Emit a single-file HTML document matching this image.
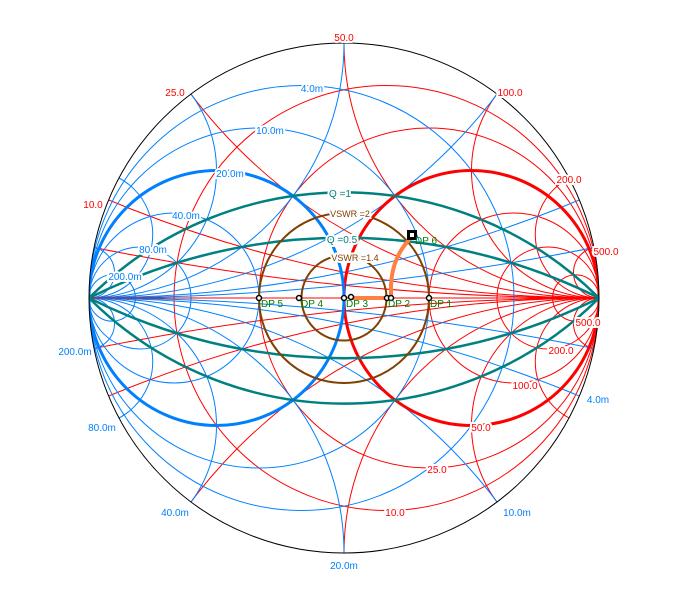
<!DOCTYPE html>
<html><head><meta charset="utf-8"><style>
html,body{margin:0;padding:0;background:#fff;overflow:hidden;width:687px;height:598px;}
svg{display:block;}
text{font-family:"Liberation Sans",sans-serif;font-size:10px;text-anchor:middle;paint-order:stroke;stroke:#fff;stroke-width:4px;stroke-linejoin:miter;}
.r{fill:#f00}.b{fill:#0080ff}
</style></head><body>
<svg width="687" height="598" viewBox="0 0 687 598" xmlns="http://www.w3.org/2000/svg">
<defs><clipPath id="uc"><circle cx="0" cy="0" r="1"/></clipPath></defs>
<g transform="translate(344,298) scale(255)">
<g clip-path="url(#uc)" fill="none">
 <g stroke="#f00" stroke-width="1">
  <circle cx="0.1667" cy="0" r="0.8333" vector-effect="non-scaling-stroke"/>
  <circle cx="0.3333" cy="0" r="0.6667" vector-effect="non-scaling-stroke"/>
  <circle cx="0.6667" cy="0" r="0.3333" vector-effect="non-scaling-stroke"/>
  <circle cx="0.8" cy="0" r="0.2" vector-effect="non-scaling-stroke"/>
  <circle cx="0.9091" cy="0" r="0.0909" vector-effect="non-scaling-stroke"/>
  <circle cx="1" cy="-10" r="10" vector-effect="non-scaling-stroke"/><circle cx="1" cy="10" r="10" vector-effect="non-scaling-stroke"/>
  <circle cx="1" cy="-5" r="5" vector-effect="non-scaling-stroke"/><circle cx="1" cy="5" r="5" vector-effect="non-scaling-stroke"/>
  <circle cx="1" cy="-2" r="2" vector-effect="non-scaling-stroke"/><circle cx="1" cy="2" r="2" vector-effect="non-scaling-stroke"/>
  <circle cx="1" cy="-1" r="1" vector-effect="non-scaling-stroke"/><circle cx="1" cy="1" r="1" vector-effect="non-scaling-stroke"/>
  <circle cx="1" cy="-0.5" r="0.5" vector-effect="non-scaling-stroke"/><circle cx="1" cy="0.5" r="0.5" vector-effect="non-scaling-stroke"/>
  <circle cx="1" cy="-0.25" r="0.25" vector-effect="non-scaling-stroke"/><circle cx="1" cy="0.25" r="0.25" vector-effect="non-scaling-stroke"/>
  <circle cx="1" cy="-0.1" r="0.1" vector-effect="non-scaling-stroke"/><circle cx="1" cy="0.1" r="0.1" vector-effect="non-scaling-stroke"/>
 </g>
 <g stroke="#0080ff" stroke-width="1">
  <circle cx="-0.1667" cy="0" r="0.8333" vector-effect="non-scaling-stroke"/>
  <circle cx="-0.3333" cy="0" r="0.6667" vector-effect="non-scaling-stroke"/>
  <circle cx="-0.6667" cy="0" r="0.3333" vector-effect="non-scaling-stroke"/>
  <circle cx="-0.8" cy="0" r="0.2" vector-effect="non-scaling-stroke"/>
  <circle cx="-0.9091" cy="0" r="0.0909" vector-effect="non-scaling-stroke"/>
  <circle cx="-1" cy="-10" r="10" vector-effect="non-scaling-stroke"/><circle cx="-1" cy="10" r="10" vector-effect="non-scaling-stroke"/>
  <circle cx="-1" cy="-5" r="5" vector-effect="non-scaling-stroke"/><circle cx="-1" cy="5" r="5" vector-effect="non-scaling-stroke"/>
  <circle cx="-1" cy="-2" r="2" vector-effect="non-scaling-stroke"/><circle cx="-1" cy="2" r="2" vector-effect="non-scaling-stroke"/>
  <circle cx="-1" cy="-1" r="1" vector-effect="non-scaling-stroke"/><circle cx="-1" cy="1" r="1" vector-effect="non-scaling-stroke"/>
  <circle cx="-1" cy="-0.5" r="0.5" vector-effect="non-scaling-stroke"/><circle cx="-1" cy="0.5" r="0.5" vector-effect="non-scaling-stroke"/>
  <circle cx="-1" cy="-0.25" r="0.25" vector-effect="non-scaling-stroke"/><circle cx="-1" cy="0.25" r="0.25" vector-effect="non-scaling-stroke"/>
  <circle cx="-1" cy="-0.1" r="0.1" vector-effect="non-scaling-stroke"/><circle cx="-1" cy="0.1" r="0.1" vector-effect="non-scaling-stroke"/>
 </g>
 <line x1="-1" y1="0" x2="1" y2="0" stroke="#f00" stroke-width="1" vector-effect="non-scaling-stroke"/>
 <circle cx="0.5" cy="0" r="0.5" stroke="#f00" stroke-width="3" vector-effect="non-scaling-stroke"/>
 <circle cx="-0.5" cy="0" r="0.5" stroke="#0080ff" stroke-width="3" vector-effect="non-scaling-stroke"/>
 <g stroke="#008080" stroke-width="2.5">
  <circle cx="0" cy="1" r="1.41421" vector-effect="non-scaling-stroke"/>
  <circle cx="0" cy="-1" r="1.41421" vector-effect="non-scaling-stroke"/>
  <circle cx="0" cy="2" r="2.23607" vector-effect="non-scaling-stroke"/>
  <circle cx="0" cy="-2" r="2.23607" vector-effect="non-scaling-stroke"/>
 </g>
 <circle cx="0" cy="0" r="0.3333" stroke="#804000" stroke-width="2" vector-effect="non-scaling-stroke"/>
 <circle cx="0" cy="0" r="0.1667" stroke="#804000" stroke-width="2" vector-effect="non-scaling-stroke"/>
</g>
<circle cx="0" cy="0" r="1" fill="none" stroke="#000" stroke-width="1" vector-effect="non-scaling-stroke"/>
</g>

<path d="M352,298 L391,298 L391,286 Q392,258 409,240" fill="none" stroke="#ff8040" stroke-width="4"/>

<text x="340" y="197" style="fill:#008080">Q =1</text>
<text x="342" y="243" style="fill:#008080">Q =0.5</text>
<text x="350" y="217" style="fill:#804000;font-size:9px">VSWR =2</text>
<text x="355" y="261" style="fill:#804000;font-size:9px">VSWR =1.4</text>

<text class="r" x="344" y="41">50.0</text>
<text class="r" x="175" y="96">25.0</text>
<text class="r" x="93" y="208">10.0</text>
<text class="r" x="510" y="96">100.0</text>
<text class="r" x="569" y="183">200.0</text>
<text class="r" x="606" y="255">500.0</text>
<text class="r" x="395" y="516">10.0</text>
<text class="r" x="437" y="473">25.0</text>
<text class="r" x="481" y="431">50.0</text>
<text class="r" x="525" y="389">100.0</text>
<text class="r" x="561" y="354">200.0</text>
<text class="r" x="588" y="326">500.0</text>
<text class="b" x="312" y="92">4.0m</text>
<text class="b" x="270" y="134">10.0m</text>
<text class="b" x="230" y="177">20.0m</text>
<text class="b" x="186" y="219">40.0m</text>
<text class="b" x="153" y="253">80.0m</text>
<text class="b" x="125" y="280">200.0m</text>
<text class="b" x="75" y="355">200.0m</text>
<text class="b" x="102" y="431">80.0m</text>
<text class="b" x="175" y="516">40.0m</text>
<text class="b" x="344" y="569">20.0m</text>
<text class="b" x="517" y="516">10.0m</text>
<text class="b" x="598" y="403">4.0m</text>

<g fill="#fff" stroke="#000" stroke-width="1.5">
 <circle cx="259" cy="298" r="2.5"/>
 <circle cx="299" cy="298" r="2.5"/>
 <circle cx="344" cy="298" r="2.5"/>
 <circle cx="351" cy="297" r="2.5"/>
 <circle cx="387" cy="298" r="2.5"/>
 <circle cx="391" cy="298" r="2.5"/>
 <circle cx="429" cy="298" r="2.5"/>
</g>
<rect x="407" y="230" width="10" height="10" fill="#000"/>
<rect x="410" y="233" width="4" height="4" fill="#fff"/>
<text x="261" y="307" style="stroke:none;text-anchor:start;fill:#008000">DP 5</text>
<text x="301" y="307" style="stroke:none;text-anchor:start;fill:#008000">DP 4</text>
<text x="346" y="307" style="stroke:none;text-anchor:start;fill:#008000">DP 3</text>
<text x="388" y="307" style="stroke:none;text-anchor:start;fill:#008000">DP 2</text>
<text x="430" y="307" style="stroke:none;text-anchor:start;fill:#008000">DP 1</text>
<text x="415" y="244" style="stroke:none;text-anchor:start;fill:#008000">DP 6</text>
</svg>
</body></html>
